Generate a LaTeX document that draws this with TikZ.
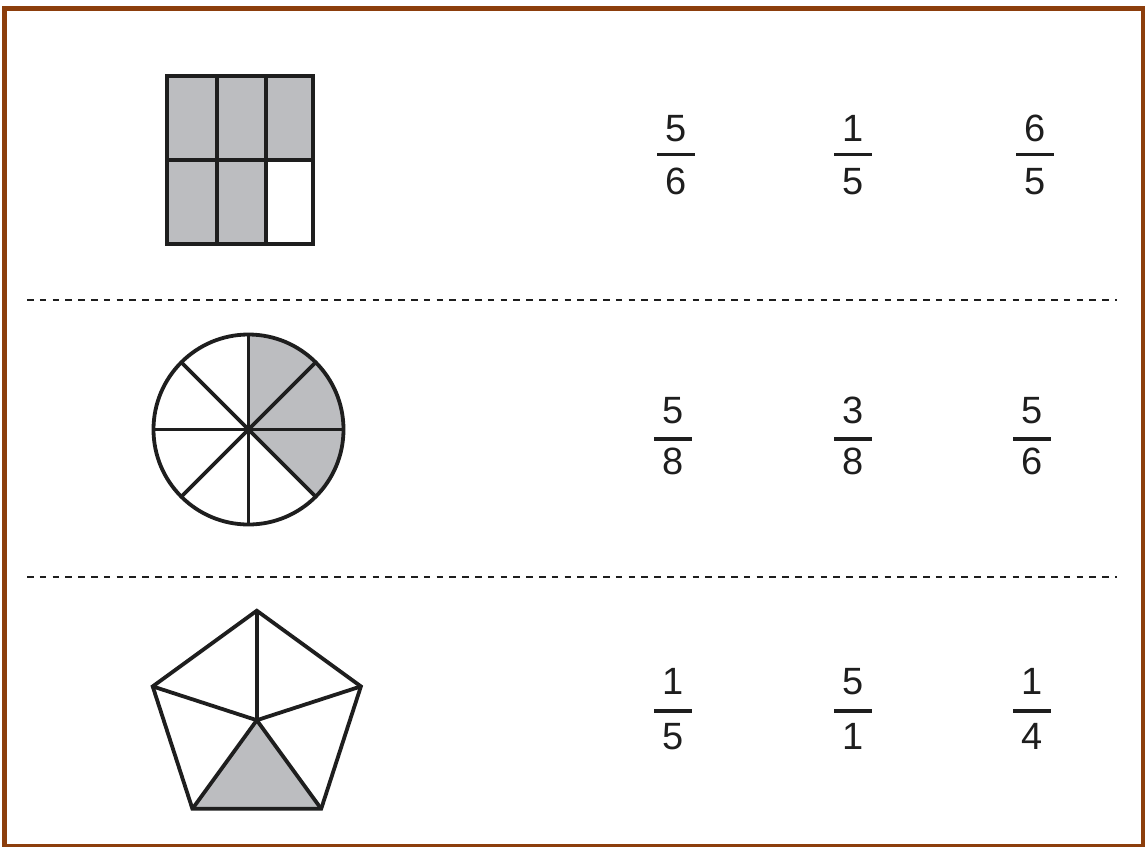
\documentclass[tikz,border=0pt]{standalone}
\usepackage{fontspec}
\setmainfont{Liberation Sans}
\usetikzlibrary{calc}
\definecolor{framebrown}{RGB}{140,62,12}
\definecolor{shade}{RGB}{188,189,192}
\definecolor{ink}{RGB}{30,30,30}
\tikzset{
  outl/.style={draw=ink, line width=3.8pt},
  shadefill/.style={fill=shade},
  digit/.style={inner sep=0pt, text height=27pt, text depth=0pt, font=\fontsize{38}{38}\selectfont, text=ink},
  fracbar/.style={draw=ink, line width=3.5pt},
  sepline/.style={draw=ink, line width=2.3pt, dash pattern=on 6.5pt off 6.3pt},
}
\begin{document}
\begin{tikzpicture}[x=1pt,y=-1pt]
\useasboundingbox (0,0) rectangle (1145,846);
% frame
\draw[framebrown, line width=5pt] (4.5,8.5) rectangle (1143,846.5);
% separators
\coordinate (s1a) at (27,300); \coordinate (s1b) at (1117,300);
\coordinate (s2a) at (27,577); \coordinate (s2b) at (1117,577);
\draw[sepline] (s1a) -- (s1b);
\draw[sepline] (s2a) -- (s2b);

% rectangle 5/6
\fill[shadefill] (167,76) rectangle (313,160);
\fill[shadefill] (167,160) rectangle (266,244);
\draw[outl] (167,76) rectangle (313,244);
\draw[outl] (216.7,76) -- (216.7,244);
\draw[outl] (266,76) -- (266,244);
\draw[outl] (167,160) -- (313,160);

% circle 3/8
\coordinate (cc) at (248.5,429.5);
\fill[shadefill] (cc) -- ++(45:95) arc[start angle=45, end angle=-90, radius=95] -- cycle;
\draw[outl] (cc) circle[radius=95];
\foreach \a in {0,45,90,135} {
  \draw[outl] ($(cc)+(\a:95)$) -- ($(cc)+(\a+180:95)$);
}

% pentagon 1/5
\coordinate (pc) at (256.8,720.2);
\coordinate (pt) at (256.8,610.7);
\coordinate (pl) at (152.7,686.4);
\coordinate (pr) at (360.9,686.4);
\coordinate (pbl) at (192.4,808.8);
\coordinate (pbr) at (321.2,808.8);
\fill[shadefill] (pc) -- (pbl) -- (pbr) -- cycle;
\draw[outl, line join=miter] (pt) -- (pr) -- (pbr) -- (pbl) -- (pl) -- cycle;
\foreach \v in {pt,pr,pbr,pbl,pl} { \draw[outl] (pc) -- (\v); }

% fractions row 1
\node[digit] (n11) at (676,128) {5};  \node[digit] (d11) at (676,181) {6};
\node[digit] (n12) at (853,128) {1};  \node[digit] (d12) at (853,181) {5};
\node[digit] (n13) at (1035,128) {6}; \node[digit] (d13) at (1035,181) {5};
\draw[fracbar] (657,154.5) -- (695,154.5);
\draw[fracbar] (834,154.5) -- (872,154.5);
\draw[fracbar] (1016,154.5) -- (1054,154.5);
% row 2
\node[digit] (n21) at (673,409.5) {5};  \node[digit] (d21) at (673,461) {8};
\node[digit] (n22) at (853,409.5) {3};  \node[digit] (d22) at (853,461) {8};
\node[digit] (n23) at (1032,409.5) {5}; \node[digit] (d23) at (1032,461) {6};
\draw[fracbar] (654,439) -- (692,439);
\draw[fracbar] (834,439) -- (872,439);
\draw[fracbar] (1013,439) -- (1051,439);
% row 3
\node[digit] (n31) at (673,681) {1};  \node[digit] (d31) at (673,736) {5};
\node[digit] (n32) at (853,681) {5};  \node[digit] (d32) at (853,736) {1};
\node[digit] (n33) at (1032,681) {1}; \node[digit] (d33) at (1032,736) {4};
\draw[fracbar] (654,711) -- (692,711);
\draw[fracbar] (834,711) -- (872,711);
\draw[fracbar] (1013,711) -- (1051,711);
\end{tikzpicture}
\end{document}
